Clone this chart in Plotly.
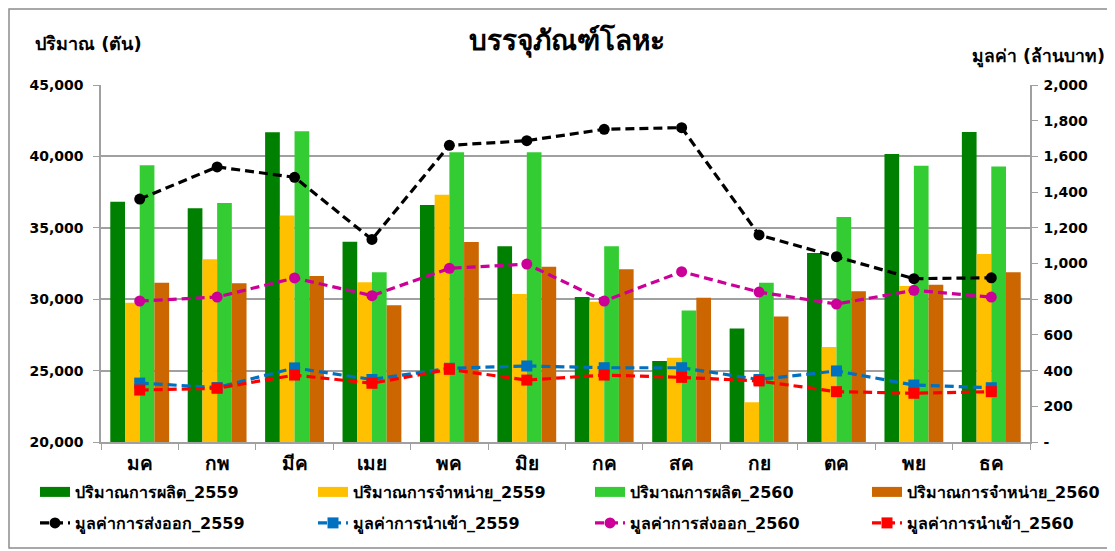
import plotly.graph_objects as go

months = ["มค", "กพ", "มีค", "เมย", "พค", "มิย", "กค", "สค", "กย", "ตค", "พย", "ธค"]

prod_2559 = [36820, 36370, 41690, 34030, 36600, 33700, 30150, 25670, 27940, 33240, 40170, 41710]
sales_2559 = [29750, 32790, 35870, 31180, 37320, 30360, 29830, 25900, 22780, 26650, 30925, 33170]
prod_2560 = [39380, 36740, 41760, 31880, 40285, 40285, 33700, 29200, 31160, 35760, 39350, 39300]
sales_2560 = [31160, 31110, 31625, 29570, 34007, 32280, 32090, 30110, 28780, 30550, 31020, 31880]

export_2559 = [1361, 1541, 1483, 1135, 1662, 1688, 1752, 1761, 1160, 1038, 915, 920]
import_2559 = [330, 305, 415, 350, 413, 426, 416, 416, 350, 398, 319, 304]
export_2560 = [790, 812, 919, 820, 973, 997, 790, 954, 840, 773, 850, 812]
import_2560 = [291, 301, 375, 329, 407, 347, 375, 362, 342, 282, 273, 282]

left_ticks = [20000, 25000, 30000, 35000, 40000, 45000]
right_ticks = [0, 200, 400, 600, 800, 1000, 1200, 1400, 1600, 1800, 2000]
right_tick_text = ["-"] + [f"{v:,}" for v in right_ticks[1:]]

FONT = "Tahoma, DejaVu Sans, sans-serif"

# page body has an 8px margin: the figure is drawn 8px right/down of the window origin
OFF = 8
W, H = 1115 - OFF, 551 - OFF
# plot area in window pixels (reference)
PX_L, PX_R, PX_T, PX_B = 101, 1030, 85, 442
L = PX_L - OFF
T = PX_T - OFF
R = W - (PX_R - OFF)
B = H - (PX_B - OFF)
pw = PX_R - PX_L
ph = PX_B - PX_T


def px2x(px):
    return (px - PX_L) / pw


def py2y(py):
    return (PX_B - py) / ph


fig = go.Figure()

bar_specs = [
    ("ปริมาณการผลิต_2559", prod_2559, "#008000"),
    ("ปริมาณการจำหน่าย_2559", sales_2559, "#FFC000"),
    ("ปริมาณการผลิต_2560", prod_2560, "#33CC33"),
    ("ปริมาณการจำหน่าย_2560", sales_2560, "#CC6600"),
]
line_specs = [
    ("มูลค่าการส่งออก_2559", export_2559, "black", "circle"),
    ("มูลค่าการนำเข้า_2559", import_2559, "#0070C0", "square"),
    ("มูลค่าการส่งออก_2560", export_2560, "#CC0099", "circle"),
    ("มูลค่าการนำเข้า_2560", import_2560, "#FF0000", "square"),
]

for name, vals, col in bar_specs:
    fig.add_trace(go.Bar(x=months, y=vals, name=name,
                         marker=dict(color=col, line=dict(width=0)), showlegend=False))

# legend swatches for the bars (wide colour strips, as in the reference)
for i, (name, vals, col) in enumerate(bar_specs):
    fig.add_trace(go.Scatter(x=[None], y=[None], mode="lines", name=name,
                             line=dict(color=col, width=10),
                             legend="legend" if i == 0 else f"legend{i + 1}"))

for i, (name, vals, col, sym) in enumerate(line_specs):
    fig.add_trace(go.Scatter(x=months, y=vals, name=name, yaxis="y2", mode="lines+markers",
                             line=dict(color=col, width=3.2, dash="9px,5px"),
                             marker=dict(symbol=sym, size=11, color=col),
                             legend=f"legend{i + 5}"))

leg_font = dict(size=16, family=FONT, weight="bold")
col_x = [40, 318, 595, 872]
row_y = [492, 523]
legends = {}
for r in range(2):
    for c in range(4):
        k = r * 4 + c
        key = "legend" if k == 0 else f"legend{k + 1}"
        legends[key] = dict(orientation="h", x=px2x(col_x[c] - 5), y=py2y(row_y[r]),
                            xanchor="left", yanchor="middle", font=leg_font,
                            bgcolor="rgba(0,0,0,0)", borderwidth=0)

fig.update_layout(
    width=W, height=H,
    margin=dict(l=L, r=R, t=T, b=B, autoexpand=False),
    paper_bgcolor="white", plot_bgcolor="white",
    font=dict(family=FONT, size=14, color="black"),
    barmode="group", bargap=0.24, bargroupgap=0,
    title=dict(text="<b>บรรจุภัณฑ์โลหะ</b>", x=(567 - OFF) / W, xanchor="center",
               y=1 - (40 - OFF) / H, yanchor="middle", font=dict(size=28, family=FONT)),
    xaxis=dict(type="category", range=[-0.5, len(months) - 0.5], autorange=False,
               showline=True, linecolor="#A0A0A0", linewidth=1.5,
               ticks="outside", tickson="boundaries", ticklen=6, tickcolor="#A0A0A0",
               ticklabelstandoff=3,
               tickfont=dict(size=19, family=FONT, weight="bold")),
    yaxis=dict(range=[20000, 45000], tickvals=left_ticks, tickformat=",",
               showgrid=True, gridcolor="#A0A0A0", gridwidth=1.5,
               showline=True, linecolor="#A0A0A0", linewidth=1.5,
               ticks="outside", ticklen=6, tickcolor="#A0A0A0", ticklabelstandoff=7,
               tickfont=dict(size=14, family=FONT, weight="bold"), zeroline=False),
    yaxis2=dict(range=[0, 2000], overlaying="y", side="right", tickvals=right_ticks,
                ticktext=right_tick_text, showgrid=False,
                showline=True, linecolor="#A0A0A0", linewidth=1.5,
                ticks="outside", ticklen=6, tickcolor="#A0A0A0", ticklabelstandoff=3,
                tickfont=dict(size=14, family=FONT, weight="bold"), zeroline=False),
    annotations=[
        dict(text="<b>ปริมาณ (ตัน)</b>", xref="paper", yref="paper", x=px2x(33), y=py2y(44),
             xanchor="left", yanchor="middle", showarrow=False, font=dict(size=18, family=FONT)),
        dict(text="<b>มูลค่า (ล้านบาท)</b>", xref="paper", yref="paper", x=px2x(1107), y=py2y(57),
             xanchor="right", yanchor="middle", showarrow=False, font=dict(size=17.5, family=FONT)),
    ],
    shapes=[
        dict(type="rect", xref="paper", yref="paper", x0=px2x(OFF + 1), x1=px2x(1109),
             y0=py2y(548), y1=py2y(OFF + 1), line=dict(color="#8C8C8C", width=1.5),
             fillcolor="rgba(0,0,0,0)", layer="below"),
    ],
    **legends,
)

fig.write_html("out.html")
